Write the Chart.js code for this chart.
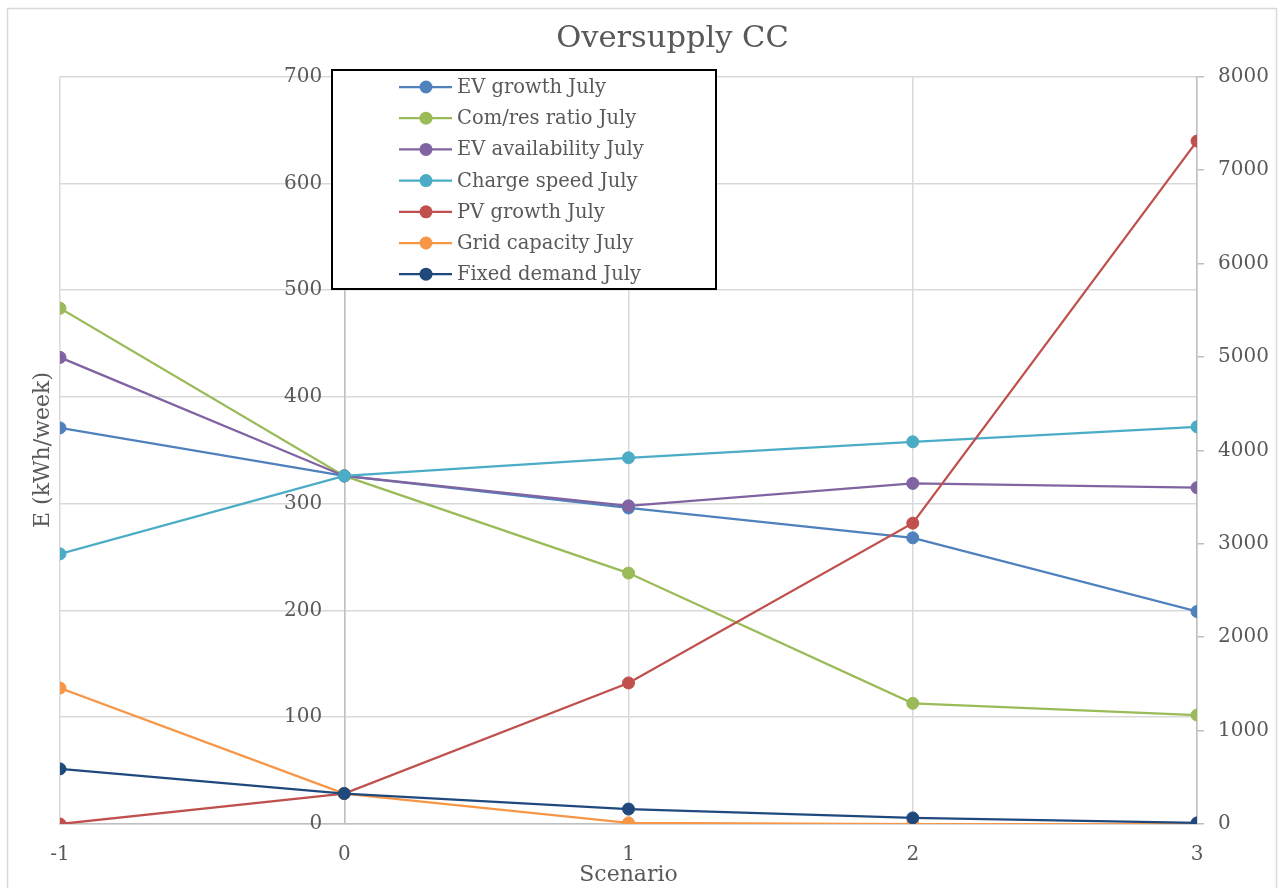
<!DOCTYPE html>
<html>
<head>
<meta charset="utf-8">
<script src="https://cdn.jsdelivr.net/npm/chart.js@4"></script>
<style>
  body { margin: 0; background: #fff; }
  #wrap { width: 1285px; height: 888px; position: relative; }
</style>
</head>
<body>
<div id="wrap"><canvas id="oversupplyChart"></canvas></div>
<script>
/* --- data --- */
const scenarios = [-1, 0, 1, 2, 3]

const evGrowth       = [371, 326, 296, 268, 199]
const comResRatio    = [483, 326, 235, 113, 102]
const evAvailability = [437, 326, 298, 319, 315]
const chargeSpeed    = [253, 326, 343, 358, 372]
// these three are on the right axis
const pvGrowth       = [0, 326, 1510, 3220, 7310]
const gridCapacity   = [1455, 326, 12, 0, 0]
const fixedDemand    = [590, 326, 160, 65, 12]

const seriesNames = [
  'EV growth July', 'Com/res ratio July', 'EV availability July',
  'Charge speed July', 'PV growth July', 'Grid capacity July', 'Fixed demand July'
]
const seriesValues = [evGrowth, comResRatio, evAvailability, chargeSpeed, pvGrowth, gridCapacity, fixedDemand]
const seriesAxis = ['yLeft', 'yLeft', 'yLeft', 'yLeft', 'yRight', 'yRight', 'yRight']
const seriesColors = ['#4f81bd', '#9bbb59', '#8064a2', '#4bacc6', '#c0504d', '#f79646', '#1f497d']

const FONT = 'DejaVu Serif'
const TEXT = '#595959'

/* --- build datasets --- */
const datasets = seriesNames.map((name, i) => ({
  label: name,
  data: scenarios.map((s, j) => ({ x: s, y: seriesValues[i][j] })),
  yAxisID: seriesAxis[i],
  borderColor: seriesColors[i],
  backgroundColor: seriesColors[i],
  pointBackgroundColor: seriesColors[i],
  pointBorderColor: seriesColors[i],
  borderWidth: 2.25,
  pointRadius: 6,
  pointBorderWidth: 1,
  order: seriesNames.length - i,
  tension: 0
}))

/* --- plugins --- */
const frame = {
  id: 'frame',
  beforeDraw(chart) {
    const ctx = chart.ctx
    ctx.save()
    ctx.fillStyle = '#fff'
    ctx.fillRect(0, 0, chart.width, chart.height)
    ctx.strokeStyle = '#d9d9d9'
    ctx.lineWidth = 1.5
    ctx.strokeRect(7.5, 8.5, 1269, 900)
    ctx.restore()
  }
}

const extras = {
  id: 'extras',
  afterDraw(chart) {
    const ctx = chart.ctx
    const yl = chart.scales.yLeft
    const x0 = chart.scales.x.getPixelForValue(0)

    // left axis labels sit next to the x = 0 line
    ctx.save()
    ctx.fillStyle = TEXT
    ctx.font = '20px "' + FONT + '"'
    ctx.textAlign = 'right'
    ctx.textBaseline = 'middle'
    yl.ticks.forEach(t => {
      ctx.fillText(String(t.value), x0 - 22, yl.getPixelForValue(t.value))
    })
    ctx.restore()

    // y axis title
    ctx.save()
    ctx.fillStyle = TEXT
    ctx.font = '22px "' + FONT + '"'
    ctx.textAlign = 'center'
    ctx.textBaseline = 'middle'
    ctx.translate(43, 450)
    ctx.rotate(-Math.PI / 2)
    ctx.fillText('E (kWh/week)', 0, 0)
    ctx.restore()

    // legend box
    ctx.save()
    const bx = 332, by = 70, bw = 384, bh = 219
    ctx.fillStyle = '#fff'
    ctx.fillRect(bx, by, bw, bh)
    ctx.strokeStyle = '#000'
    ctx.lineWidth = 2
    ctx.strokeRect(bx, by, bw, bh)
    ctx.font = '19.5px "' + FONT + '"'
    ctx.textBaseline = 'middle'
    ctx.textAlign = 'left'
    chart.data.datasets.forEach((ds, i) => {
      const y = 87 + i * 31.2
      ctx.strokeStyle = ds.borderColor
      ctx.lineWidth = 2.25
      ctx.beginPath()
      ctx.moveTo(399, y)
      ctx.lineTo(452, y)
      ctx.stroke()
      ctx.fillStyle = ds.borderColor
      ctx.beginPath()
      ctx.arc(426, y, 6.5, 0, Math.PI * 2)
      ctx.fill()
      ctx.fillStyle = TEXT
      ctx.fillText(ds.label, 457, y + 1)
    })
    ctx.restore()
  }
}

/* --- chart --- */
const config = {
  type: 'line',
  data: { datasets: datasets },
  options: {
    responsive: true,
    maintainAspectRatio: false,
    animation: false,
    layout: { padding: { top: 10, left: 60, right: 0, bottom: 0 } },
    plugins: {
      legend: { display: false },
      tooltip: { enabled: false },
      title: {
        display: true,
        text: 'Oversupply CC',
        color: TEXT,
        font: { family: FONT, size: 30.5, weight: 'normal' },
        padding: { top: 11, bottom: 19 }
      }
    },
    scales: {
      x: {
        type: 'linear',
        min: -1,
        max: 3,
        ticks: { stepSize: 1, color: TEXT, font: { family: FONT, size: 20 }, padding: 19 },
        grid: { color: '#d9d9d9', lineWidth: 1.5, drawTicks: false },
        border: { color: '#bfbfbf', width: 1.5 },
        title: {
          display: true, text: 'Scenario', color: TEXT,
          font: { family: FONT, size: 22 }, padding: { top: 0, bottom: 0 }
        },
        afterFit(scale) { scale.height = 64 }
      },
      yLeft: {
        type: 'linear',
        position: { x: 0 },
        min: 0,
        max: 700,
        ticks: { stepSize: 100, display: false },
        grid: { color: '#d9d9d9', lineWidth: 1.5, drawTicks: false },
        border: { color: '#bfbfbf', width: 1.5 }
      },
      yRight: {
        type: 'linear',
        position: 'right',
        min: 0,
        max: 8000,
        ticks: {
          stepSize: 1000, color: TEXT, font: { family: FONT, size: 20 }, padding: 14,
          callback: v => String(v)
        },
        grid: { drawOnChartArea: false, drawTicks: true, tickLength: 7, color: '#bfbfbf', lineWidth: 1.5 },
        border: { color: '#bfbfbf', width: 1.5 },
        afterFit(scale) { scale.width = 88 }
      }
    }
  },
  plugins: [frame, extras]
}

const oversupplyChart = new Chart(
  document.getElementById('oversupplyChart').getContext('2d'),
  config
)
</script>
</body>
</html>
